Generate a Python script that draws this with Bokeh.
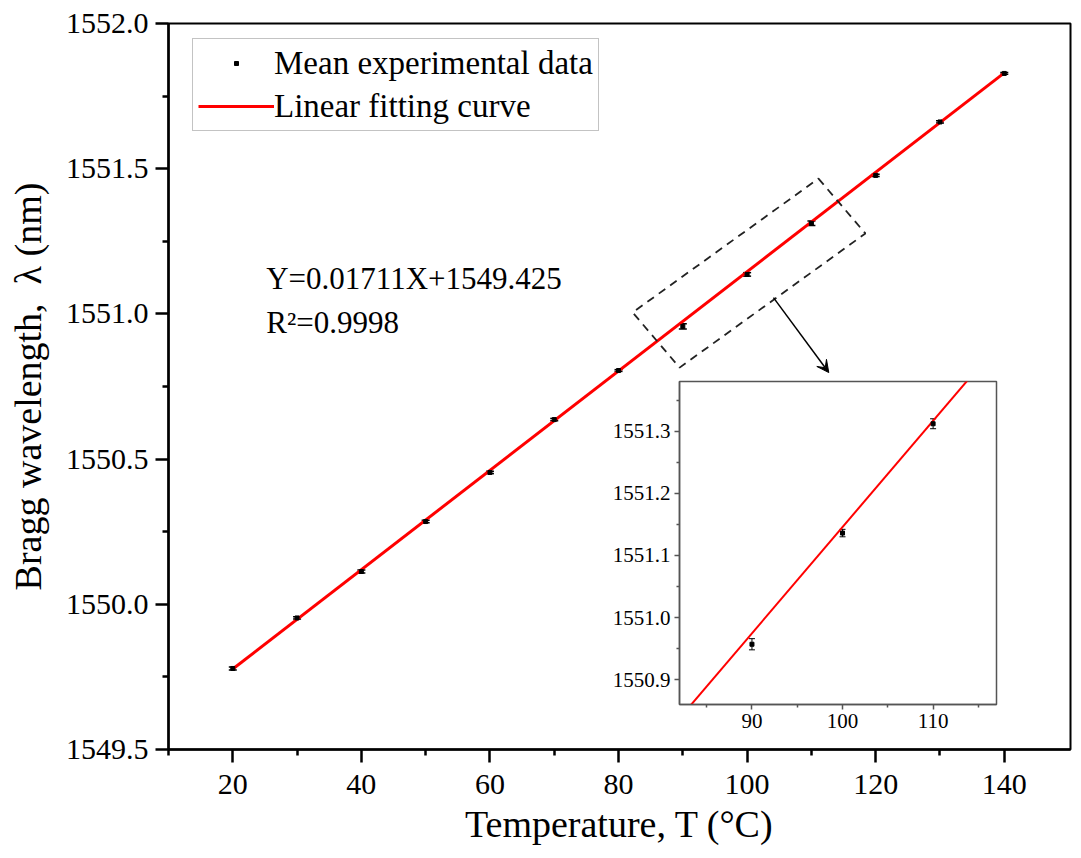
from bokeh.plotting import figure
from bokeh.models import (Range1d, FixedTicker, PrintfTickFormatter, ColumnDataSource,
                          Whisker, TeeHead, Legend, LegendItem, Label, Arrow, VeeHead)
from bokeh.layouts import column
from bokeh.embed import file_html
from bokeh.resources import INLINE

# ---------------- data ----------------
temps = [20, 30, 40, 50, 60, 70, 80, 90, 100, 110, 120, 130, 140]
wl_mean = [1549.779, 1549.953, 1550.113, 1550.285, 1550.454, 1550.636, 1550.805,
           1550.957, 1551.136, 1551.312, 1551.477, 1551.661, 1551.828]
wl_err = [0.005, 0.004, 0.005, 0.004, 0.004, 0.004, 0.003,
          0.009, 0.006, 0.008, 0.004, 0.004, 0.003]
fit_T = [20, 140]
fit_wl = [1549.777, 1551.830]

x_ticks = [20, 40, 60, 80, 100, 120, 140]
y_ticks = [1549.5, 1550.0, 1550.5, 1551.0, 1551.5, 1552.0]
inset_x_ticks = [90, 100, 110]
inset_y_ticks = [1550.9, 1551.0, 1551.1, 1551.2, 1551.3]

legend_labels = ["Mean experimental data", "Linear fitting curve"]
equation_text = "Y=0.01711X+1549.425"
r2_text = "R\u00b2=0.9998"
x_label = "Temperature, T (\u00b0C)"
y_label = "Bragg wavelength,\u2002\u03bb (nm)"

FONT = "Liberation Serif"

src = ColumnDataSource(dict(
    T=temps, wl=wl_mean,
    lo=[m - e for m, e in zip(wl_mean, wl_err)],
    hi=[m + e for m, e in zip(wl_mean, wl_err)],
))


def style_axes(fig, tick_size, label_size, color, line_w, maj_out, min_out, standoff):
    fig.axis.axis_line_width = line_w
    fig.axis.axis_line_color = color
    fig.axis.major_tick_line_width = line_w
    fig.axis.minor_tick_line_width = line_w
    fig.axis.major_tick_line_color = color
    fig.axis.minor_tick_line_color = color
    fig.axis.major_tick_out = maj_out
    fig.axis.major_tick_in = 0
    fig.axis.minor_tick_out = min_out
    fig.axis.minor_tick_in = 0
    fig.axis.major_label_text_font = FONT
    fig.axis.major_label_text_font_style = "normal"
    fig.axis.major_label_text_font_size = tick_size
    fig.axis.major_label_text_color = "black"
    fig.axis.major_label_standoff = standoff
    fig.axis.axis_label_text_font = FONT
    fig.axis.axis_label_text_font_size = label_size
    fig.axis.axis_label_text_font_style = "normal"
    fig.axis.axis_label_text_color = "black"


# ---------------- main figure ----------------
p = figure(width=1076, height=850, x_range=Range1d(10, 150.3), y_range=Range1d(1549.5, 1552.0),
           output_backend="svg", toolbar_location=None,
           min_border_left=168, min_border_right=6, min_border_top=23, min_border_bottom=101)
p.grid.visible = False
p.outline_line_color = "black"
p.outline_line_width = 2
p.background_fill_color = "white"
p.border_fill_color = "white"
style_axes(p, "30px", "38px", "black", 2.5, 13, 6, 7)

p.xaxis.ticker = FixedTicker(ticks=x_ticks, minor_ticks=[t - 10 for t in x_ticks])
p.yaxis.ticker = FixedTicker(ticks=y_ticks, minor_ticks=[t + 0.25 for t in y_ticks[:-1]])
p.yaxis.formatter = PrintfTickFormatter(format="%.1f")
p.xaxis.axis_label = x_label
p.yaxis.axis_label = y_label
p.xaxis.major_label_standoff = 12
p.xaxis.axis_label_standoff = 6
p.yaxis.axis_label_standoff = 14

fit_line = p.line(fit_T, fit_wl, line_color="#ff0000", line_width=3)
p.add_layout(Whisker(source=src, base="T", upper="hi", lower="lo", dimension="height",
                     line_color="black", line_width=1.5,
                     upper_head=TeeHead(size=8, line_color="black", line_width=1.5),
                     lower_head=TeeHead(size=8, line_color="black", line_width=1.5)))
pts = p.scatter("T", "wl", source=src, marker="square", size=4, color="black")

legend = Legend(items=[LegendItem(label=legend_labels[0], renderers=[pts]),
                       LegendItem(label=legend_labels[1], renderers=[fit_line])],
                location=(24, 618), glyph_width=76, glyph_height=10, label_height=38,
                spacing=5, padding=5, label_standoff=0,
                label_text_font=FONT, label_text_font_size="33px", label_text_color="black",
                border_line_color="#888888", border_line_width=1.5,
                background_fill_color="white", background_fill_alpha=1)
p.add_layout(legend)

p.add_layout(Label(x=25.2, y=1551.122, text=equation_text, text_font=FONT,
                   text_font_size="31px", text_baseline="middle", text_color="black"))
p.add_layout(Label(x=25.2, y=1550.970, text=r2_text, text_font=FONT,
                   text_font_size="31px", text_baseline="middle", text_color="black"))

# zoom window (dashed rotated rectangle) and arrow
p.patch([111.1, 118.4, 89.5, 82.2], [1551.466, 1551.277, 1550.815, 1551.005],
        fill_alpha=0, line_color="#222222", line_dash="8 6", line_width=1.8)
p.add_layout(Arrow(end=VeeHead(size=12, fill_color="black", line_color="black", line_width=1),
                   x_start=104.1, y_start=1551.056, x_end=112.7, y_end=1550.798,
                   line_color="black", line_width=1.5))

# ---------------- inset figure ----------------
q = figure(width=491, height=361, x_range=Range1d(82, 117), y_range=Range1d(1550.86, 1551.38),
           output_backend="svg", toolbar_location=None,
           min_border_left=168, min_border_right=6, min_border_top=2, min_border_bottom=36)
q.grid.visible = False
q.border_fill_color = None
q.background_fill_color = "white"
q.outline_line_color = "#555555"
q.outline_line_width = 1.5
style_axes(q, "21px", "21px", "#555555", 1.5, 5, 3, 4)
q.xaxis.ticker = FixedTicker(ticks=inset_x_ticks, minor_ticks=[t - 5 for t in inset_x_ticks] + [115])
q.yaxis.ticker = FixedTicker(ticks=inset_y_ticks, minor_ticks=[t + 0.05 for t in inset_y_ticks])
q.yaxis.formatter = PrintfTickFormatter(format="%.1f")

q.line(fit_T, fit_wl, line_color="#ff0000", line_width=2)
q.add_layout(Whisker(source=src, base="T", upper="hi", lower="lo", dimension="height",
                     line_color="black", line_width=1,
                     upper_head=TeeHead(size=6, line_color="black", line_width=1),
                     lower_head=TeeHead(size=6, line_color="black", line_width=1)))
q.scatter("T", "wl", source=src, marker="square", size=4, color="black")

q.margin = (-471, 0, 0, 511)

layout = column(p, q)
open("out.html", "w").write(file_html(layout, INLINE))
